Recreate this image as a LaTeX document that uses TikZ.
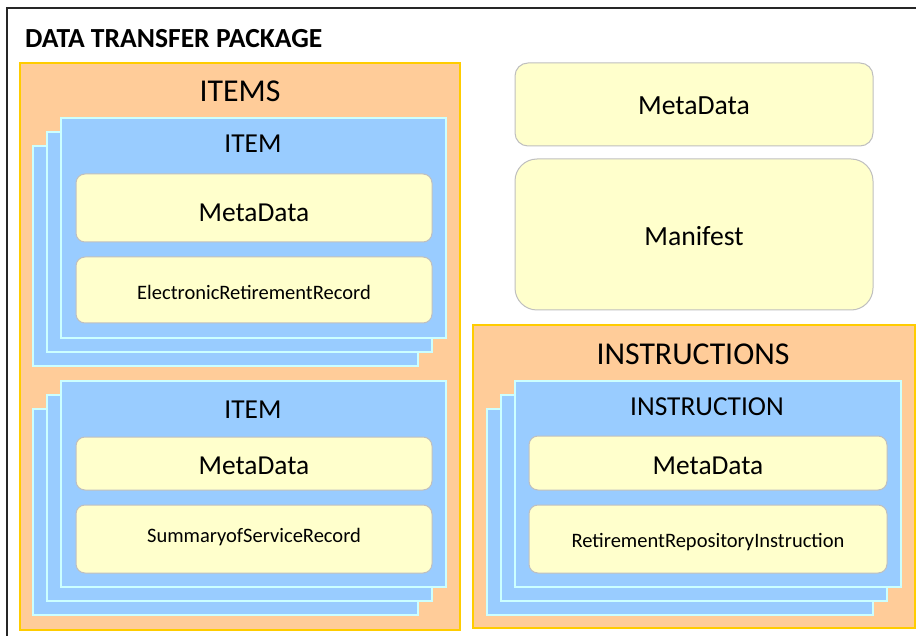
\documentclass[tikz,border=0pt]{standalone}
\usepackage{fontspec}
\setmainfont{Carlito}
\newcommand{\hugetxt}{\fontsize{31.8}{33}\selectfont}
\newcommand{\bigtxt}{\fontsize{27.7}{29}\selectfont}
\newcommand{\midtxt}{\fontsize{27.4}{29}\selectfont}
\newcommand{\smalltxt}{\fontsize{20.5}{22}\selectfont}
\definecolor{pkgfill}{HTML}{FFCC99}
\definecolor{pkgline}{HTML}{FFCC00}
\definecolor{cardfill}{HTML}{99CCFF}
\definecolor{cardline}{HTML}{CCFFFF}
\definecolor{fieldfill}{HTML}{FFFFCC}
\definecolor{fieldline}{HTML}{BFBFBF}
\tikzset{
  pkg/.style={draw=pkgline, fill=pkgfill, line width=1.5pt, inner sep=0pt},
  card/.style={draw=cardline, fill=cardfill, line width=1.2pt, inner sep=0pt,
    minimum width=385, minimum height=#1},
  field/.style={draw=fieldline, fill=fieldfill, line width=1pt, rounded corners=9pt,
    inner sep=0pt, minimum width=356, minimum height=#1},
  txt/.style={inner sep=0pt, anchor=base}
}
\begin{document}
\begin{tikzpicture}[x=1pt,y=-1pt]
    \useasboundingbox (0,0) rectangle (916,636);
    \draw[line width=1.5pt, black!85] (7,636) -- (7,8) -- (916,8);
    \node[txt, anchor=base west, font=\bfseries\fontsize{27.6}{29}\selectfont] (title) at (25,48) {DATA TRANSFER PACKAGE};

    % items
    \node[pkg, minimum width=440, minimum height=567] (items) at (240,346.5) {};
    \node[txt, font=\hugetxt] (itemstxt) at (240,102) {ITEMS};
    \foreach \d in {28,14} {
        \node[card=220] at (253.5-\d,228+\d) {};
        \node[card=206] at (253.5-\d,484+\d) {};
    }
    \node[card=220] (item1) at (253.5,228) {};
    \node[txt, font=\midtxt] (item1txt) at (253,153) {ITEM};
    \node[field=68] (meta1) at (254,208) {};
    \node[txt, font=\midtxt] (meta1txt) at (254,222) {MetaData};
    \node[field=66] (err) at (254,290) {};
    \node[txt, font=\smalltxt] (errtxt) at (254,300) {ElectronicRetirementRecord};
    \node[card=206] (item2) at (253.5,484) {};
    \node[txt, font=\midtxt] (item2txt) at (253,418) {ITEM};
    \node[field=53] (meta2) at (254,463.5) {};
    \node[txt, font=\midtxt] (meta2txt) at (254,474) {MetaData};
    \node[field=68] (ssr) at (254,539) {};
    \node[txt, font=\smalltxt] (ssrtxt) at (254,542) {SummaryofServiceRecord};

    % package level
    \node[field=83, minimum width=358, rounded corners=13pt] (meta0) at (694,104.5) {};
    \node[txt, font=\bigtxt] (meta0txt) at (694,115) {MetaData};
    \node[field=151, minimum width=358, rounded corners=22pt] (manifest) at (694,234.5) {};
    \node[txt, font=\bigtxt] (manifesttxt) at (694,246) {Manifest};

    % instructions
    \node[pkg, minimum width=442, minimum height=303] (instrs) at (694,476.5) {};
    \node[txt, font=\hugetxt] (instrstxt) at (693,365) {INSTRUCTIONS};
    \foreach \d in {28,14}
        \node[card=206, minimum width=386] at (708-\d,484+\d) {};
    \node[card=206, minimum width=386] (instr) at (708,484) {};
    \node[txt, font=\midtxt] (instrtxt) at (707,415) {INSTRUCTION};
    \node[field=54, minimum width=358] (meta3) at (708,463) {};
    \node[txt, font=\midtxt] (meta3txt) at (708,474) {MetaData};
    \node[field=68, minimum width=358] (rri) at (708,539) {};
    \node[txt, font=\smalltxt] (rritxt) at (708,547) {RetirementRepositoryInstruction};
\end{tikzpicture}
\end{document}
